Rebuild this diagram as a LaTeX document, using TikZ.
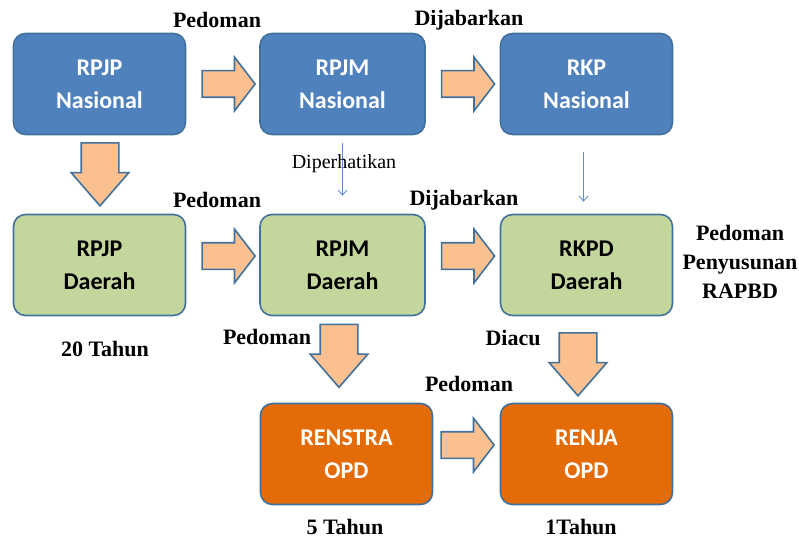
\documentclass[tikz,border=0pt]{standalone}
\usepackage{fontspec}
\setmainfont{Liberation Serif}
\setsansfont{Carlito}
\usepackage{tikz}
\usetikzlibrary{positioning, arrows.meta, shapes.arrows}

\definecolor{natblue}{HTML}{4F81BD}
\definecolor{boxline}{HTML}{41719C}
\definecolor{dagreen}{HTML}{C3D69B}
\definecolor{opdorange}{HTML}{E36C09}
\definecolor{arrowfill}{HTML}{FAC090}
\definecolor{thinblue}{HTML}{5B8FD0}

\begin{document}
\begin{tikzpicture}[
			x=1pt, y=-1pt,
			plan/.style={rectangle, rounded corners=12pt, draw=boxline, line width=1.6pt, minimum width=172pt, minimum height=101pt, align=center, font=\sffamily\bfseries\fontsize{24}{33}\selectfont},
			nasional/.style={plan, fill=natblue, text=white},
			daerah/.style={plan, fill=dagreen, text=black},
			opd/.style={plan, fill=opdorange, text=white},
			harrow/.style={single arrow, draw=boxline, fill=arrowfill, line width=1.6pt, inner xsep=0pt, inner ysep=12.5pt, minimum height=53pt, single arrow head extend=13.5pt, single arrow tip angle=105},
			varrow/.style={single arrow, draw=boxline, fill=arrowfill, line width=1.6pt, inner xsep=0pt, inner ysep=18pt, minimum height=63pt, single arrow head extend=10pt, single arrow tip angle=82, rotate=-90},
			seeline/.style={thinblue, line width=0.9pt, -{Straight Barb[length=5pt, width=9pt]}},
			label text/.style={font=\bfseries\fontsize{22}{29}\selectfont, align=center}
			]
			\useasboundingbox (0,0) rectangle (799,540);
			
			% --- ROW 1: Nasional ---
			\node[nasional] (rpjpn) at (99.5, 84) {RPJP\\Nasional};
			\node[nasional, minimum width=165pt] (rpjmn) at (342.5, 84) {RPJM\\Nasional};
			\node[nasional] (rkpn) at (586.5, 84) {RKP\\Nasional};
			
			% --- ROW 2: Daerah ---
			\node[daerah] (rpjpd) at (99.5, 265) {RPJP\\Daerah};
			\node[daerah, minimum width=165pt] (rpjmd) at (342.5, 265) {RPJM\\Daerah};
			\node[daerah] (rkpd) at (586.5, 265) {RKPD\\Daerah};
			
			% --- ROW 3: OPD ---
			\node[opd] (renstra) at (346.5, 454) {RENSTRA\\OPD};
			\node[opd] (renja) at (586.5, 454) {RENJA\\OPD};
			
			% block arrows
			\node[harrow] (a1) at (223.5, 84) {};
			\node[harrow] (a2) at (463, 84) {};
			\node[varrow] (a3) at (100, 163.5) {};
			\node[harrow] (a4) at (223.5, 256) {};
			\node[harrow] (a5) at (463, 256) {};
			\node[varrow] (a6) at (339, 345) {};
			\node[varrow] (a7) at (578, 353.5) {};
			\node[harrow] (a8) at (462.5, 445) {};
			
			% thin arrows
			\draw[seeline, shorten <=8pt, shorten >=18pt] (rpjmn) -- (rpjmd);
			\draw[seeline, shorten <=17pt, shorten >=12pt] ([xshift=-3pt]rkpn.south) -- ([xshift=-3pt]rkpd.north);
			
			% labels
			\node[label text] (l1) at (217, 20) {Pedoman};
			\node[label text] (l2) at (469, 20) {Dijabarkan};
			\node[font=\fontsize{20}{24}\selectfont] (l3) at (344, 164) {Diperhatikan};
			\node[label text] (l4) at (217, 200) {Pedoman};
			\node[label text] (l5) at (464, 200) {Dijabarkan};
			\node[label text] (l6) at (740, 262) {Pedoman\\Penyusunan\\RAPBD};
			\node[label text] (l7) at (105, 349) {20 Tahun};
			\node[label text] (l8) at (267, 337) {Pedoman};
			\node[label text] (l9) at (513, 338) {Diacu};
			\node[label text] (l10) at (469, 384) {Pedoman};
			\node[label text] (l11) at (345, 527) {5 Tahun};
			\node[label text] (l12) at (581, 527) {1Tahun};
			
		\end{tikzpicture}
\end{document}
